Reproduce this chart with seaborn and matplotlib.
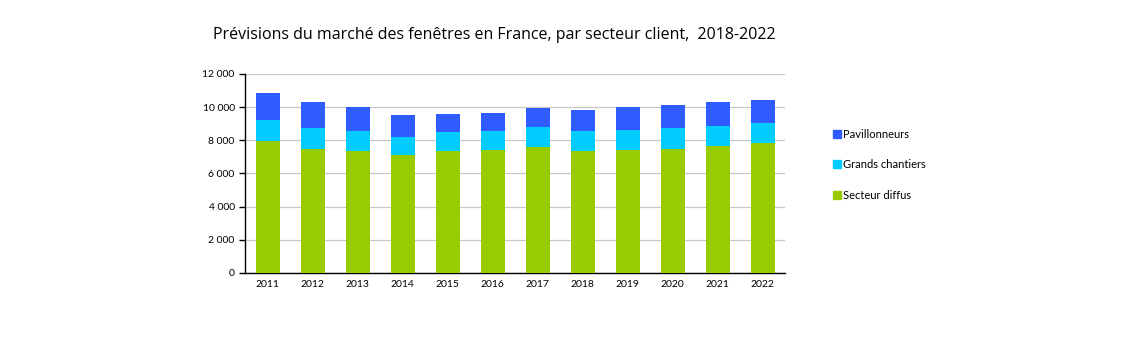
import numpy as np
import pandas as pd
import seaborn as sns
import matplotlib.pyplot as plt
from matplotlib.patches import Patch
from matplotlib.ticker import FuncFormatter

# Data
years = ["2011", "2012", "2013", "2014", "2015", "2016",
         "2017", "2018", "2019", "2020", "2021", "2022"]
secteur_diffus = [7940, 7500, 7380, 7140, 7380, 7440, 7620, 7380, 7440, 7500, 7680, 7820]
grands_chantiers = [1250, 1220, 1180, 1080, 1100, 1120, 1150, 1180, 1160, 1220, 1190, 1200]
pavillonneurs = [1640, 1590, 1450, 1290, 1090, 1090, 1160, 1290, 1410, 1430, 1450, 1430]

COLORS = {"Pavillonneurs": "#2F5BFF",
          "Grands chantiers": "#00CCFF",
          "Secteur diffus": "#99CC00"}

df = pd.DataFrame({"year": years,
                   "Secteur diffus": secteur_diffus,
                   "Grands chantiers": grands_chantiers,
                   "Pavillonneurs": pavillonneurs})
# cumulative tops for stacking
df["top_green"] = df["Secteur diffus"]
df["top_cyan"] = df["top_green"] + df["Grands chantiers"]
df["top_blue"] = df["top_cyan"] + df["Pavillonneurs"]

sns.set_theme(style="white")
plt.rcParams["font.family"] = ["Lato", "DejaVu Sans"]
plt.rcParams["text.color"] = "black"
plt.rcParams["xtick.color"] = "black"
plt.rcParams["ytick.color"] = "black"

fig = plt.figure(figsize=(11.4, 3.5), dpi=100)
ax = fig.add_axes([0.215, 0.22, 0.4737, 0.569])

# draw the tallest layer first so lower layers cover it
for col, name in [("top_blue", "Pavillonneurs"),
                  ("top_cyan", "Grands chantiers"),
                  ("top_green", "Secteur diffus")]:
    sns.barplot(data=df, x="year", y=col, color=COLORS[name], width=0.53,
                saturation=1, ax=ax, linewidth=0, zorder=3)

ax.set_ylim(0, 12000)
ax.set_xlim(-0.5, len(years) - 0.5)
ax.set_yticks(np.arange(0, 12001, 2000))
ax.yaxis.set_major_formatter(FuncFormatter(lambda v, p: f"{int(v):,}".replace(",", " ")))
ax.yaxis.grid(True, color="#C8C8C8", linewidth=0.9, zorder=0)
ax.set_axisbelow(True)
ax.set_xlabel("")
ax.set_ylabel("")

for s in ["top", "right"]:
    ax.spines[s].set_visible(False)
for s in ["left", "bottom"]:
    ax.spines[s].set_color("black")
    ax.spines[s].set_linewidth(1.0)

# year labels at centers, tick marks at boundaries
ax.set_xticks(np.arange(-0.5, len(years), 1.0), minor=True)
ax.tick_params(axis="x", which="major", length=0, labelsize=7.5, pad=5)
ax.tick_params(axis="x", which="minor", length=4, width=1, color="black", direction="out")
ax.tick_params(axis="y", which="major", length=4, width=1, color="black",
               direction="out", labelsize=7.5, left=True)

fig.text(0.434, 0.9, "Prévisions du marché des fenêtres en France, par secteur client,  2018-2022",
         ha="center", va="center", fontsize=11.5, color="black",
         family=["Open Sans", "DejaVu Sans"])

handles = [Patch(color=COLORS[n], label=n)
           for n in ["Pavillonneurs", "Grands chantiers", "Secteur diffus"]]
fig.legend(handles=handles, loc="upper left", bbox_to_anchor=(0.727, 0.645),
           frameon=False, fontsize=8, handlelength=0.7, handleheight=0.7,
           handletextpad=0.15, labelspacing=1.75, borderaxespad=0)

fig.savefig("out.png", dpi=100)
